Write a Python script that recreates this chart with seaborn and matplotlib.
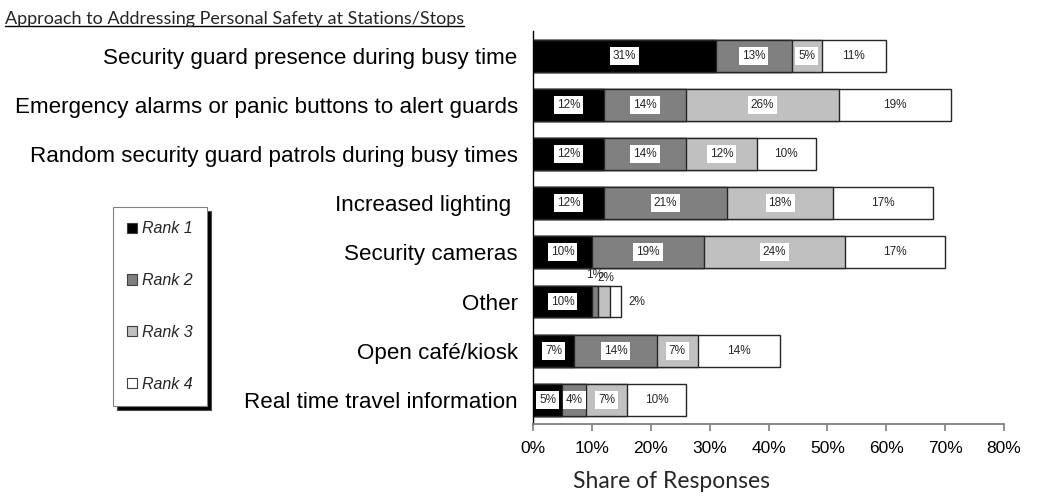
import matplotlib
matplotlib.use("Agg")
import matplotlib.pyplot as plt
import seaborn as sns
import pandas as pd
from matplotlib.patches import Patch
from matplotlib.lines import Line2D
from matplotlib.ticker import PercentFormatter

# Values (share of responses, %)
approaches = [
    "Security guard presence during busy time",
    "Emergency alarms or panic buttons to alert guards",
    "Random security guard patrols during busy times",
    "Increased lighting ",
    "Security cameras",
    "Other",
    "Open caf\u00e9/kiosk",
    "Real time travel information",
]
rank1 = [31, 12, 12, 12, 10, 10, 7, 5]
rank2 = [13, 14, 14, 21, 19, 1, 14, 4]
rank3 = [5, 26, 12, 18, 24, 2, 7, 7]
rank4 = [11, 19, 10, 17, 17, 2, 14, 10]
rank_names = ["Rank 1", "Rank 2", "Rank 3", "Rank 4"]
rank_colors = ["#000000", "#808080", "#c0c0c0", "#ffffff"]
x_ticks = [0, 10, 20, 30, 40, 50, 60, 70, 80]

title_text = "Approach to Addressing Personal Safety at Stations/Stops"
x_label = "Share of Responses"

sns.set_theme(style="white")
plt.rcParams['font.family'] = ['Liberation Sans', 'DejaVu Sans']

df = pd.DataFrame({"approach": approaches, "Rank 1": rank1, "Rank 2": rank2,
                   "Rank 3": rank3, "Rank 4": rank4})
cum = df[rank_names].cumsum(axis=1)

fig = plt.figure(figsize=(10.41, 4.98), dpi=100)
ax = fig.add_axes([0.512, 0.148, 0.4525, 0.789])

# stacked bars: draw running totals from the longest layer down
for name, color in reversed(list(zip(rank_names, rank_colors))):
    sns.barplot(x=cum[name], y=df["approach"], orient="h", color=color,
                saturation=1, edgecolor="#262626", linewidth=1.0,
                width=0.65, ax=ax)

# segment labels
for i in range(len(df)):
    for j, name in enumerate(rank_names):
        val = df.loc[i, name]
        end = cum.loc[i, name]
        mid = end - val / 2
        txt = f"{val}%"
        if val < 3 and j == len(rank_names) - 1:
            ax.text(end + 1.2, i, txt, ha="left", va="center", fontsize=8.5)
        elif val < 3:
            # tiny segments: label sits just above the bar
            ax.text(mid - 0.6 + j * 0.5, i - 0.36 - (2 - j) * 0.05, txt,
                    ha="center", va="bottom", fontsize=8.5)
        elif j < len(rank_names) - 1:
            ax.text(mid, i, txt, ha="center", va="center", fontsize=8.5,
                    bbox=dict(boxstyle="square,pad=0.25", fc="white", ec="none"))
        else:
            ax.text(mid, i, txt, ha="center", va="center", fontsize=8.5)

ax.set_xlim(0, 80)
ax.set_xticks(x_ticks)
ax.xaxis.set_major_formatter(PercentFormatter(decimals=0))
ax.set_ylabel("")
ax.set_xlabel(x_label, fontsize=16.5, family=["Lato", "DejaVu Sans"])
ax.xaxis.set_label_coords(0.295, -0.12)

sns.despine(ax=ax, top=True, right=True)
ax.spines["left"].set_color("black")
ax.spines["left"].set_linewidth(1.0)
ax.spines["bottom"].set_color("#808080")
ax.spines["bottom"].set_linewidth(1.3)
ax.tick_params(axis="x", bottom=True, direction="out", length=5, width=1.2,
               color="#808080", labelsize=12.5, labelcolor="black", pad=7)
ax.tick_params(axis="y", left=False, length=0, pad=11, labelsize=16.1,
               labelcolor="black")

# legend
handles = [Patch(facecolor=c, edgecolor="#404040", linewidth=0.8, label=n)
           for n, c in zip(rank_names, rank_colors)]
leg = fig.legend(handles=handles, loc="upper left",
                 bbox_to_anchor=(113 / 1041, 1 - 207 / 498),
                 borderaxespad=0, frameon=True, fancybox=False,
                 edgecolor="#808080", framealpha=1,
                 shadow={"ox": 3, "oy": -3, "facecolor": "black", "alpha": 1},
                 handlelength=0.6, handleheight=0.6, handletextpad=0.3,
                 labelspacing=2.3, borderpad=0.9,
                 prop={"style": "italic", "size": 11.5})
leg.get_frame().set_linewidth(0.8)

# underlined title
title = fig.text(0.005, 0.962, title_text, ha="left", va="center",
                 fontsize=13, family=["Lato", "DejaVu Sans"])
fig.canvas.draw()
bb = title.get_window_extent()
inv = fig.transFigure.inverted()
(x0, y0), (x1, _) = inv.transform([(bb.x0, bb.y0 + 1), (bb.x1, bb.y0 + 1)])
fig.add_artist(Line2D([x0, x1], [y0, y0], color="black", linewidth=1.0,
                      transform=fig.transFigure))

fig.savefig("out.png", dpi=100)
